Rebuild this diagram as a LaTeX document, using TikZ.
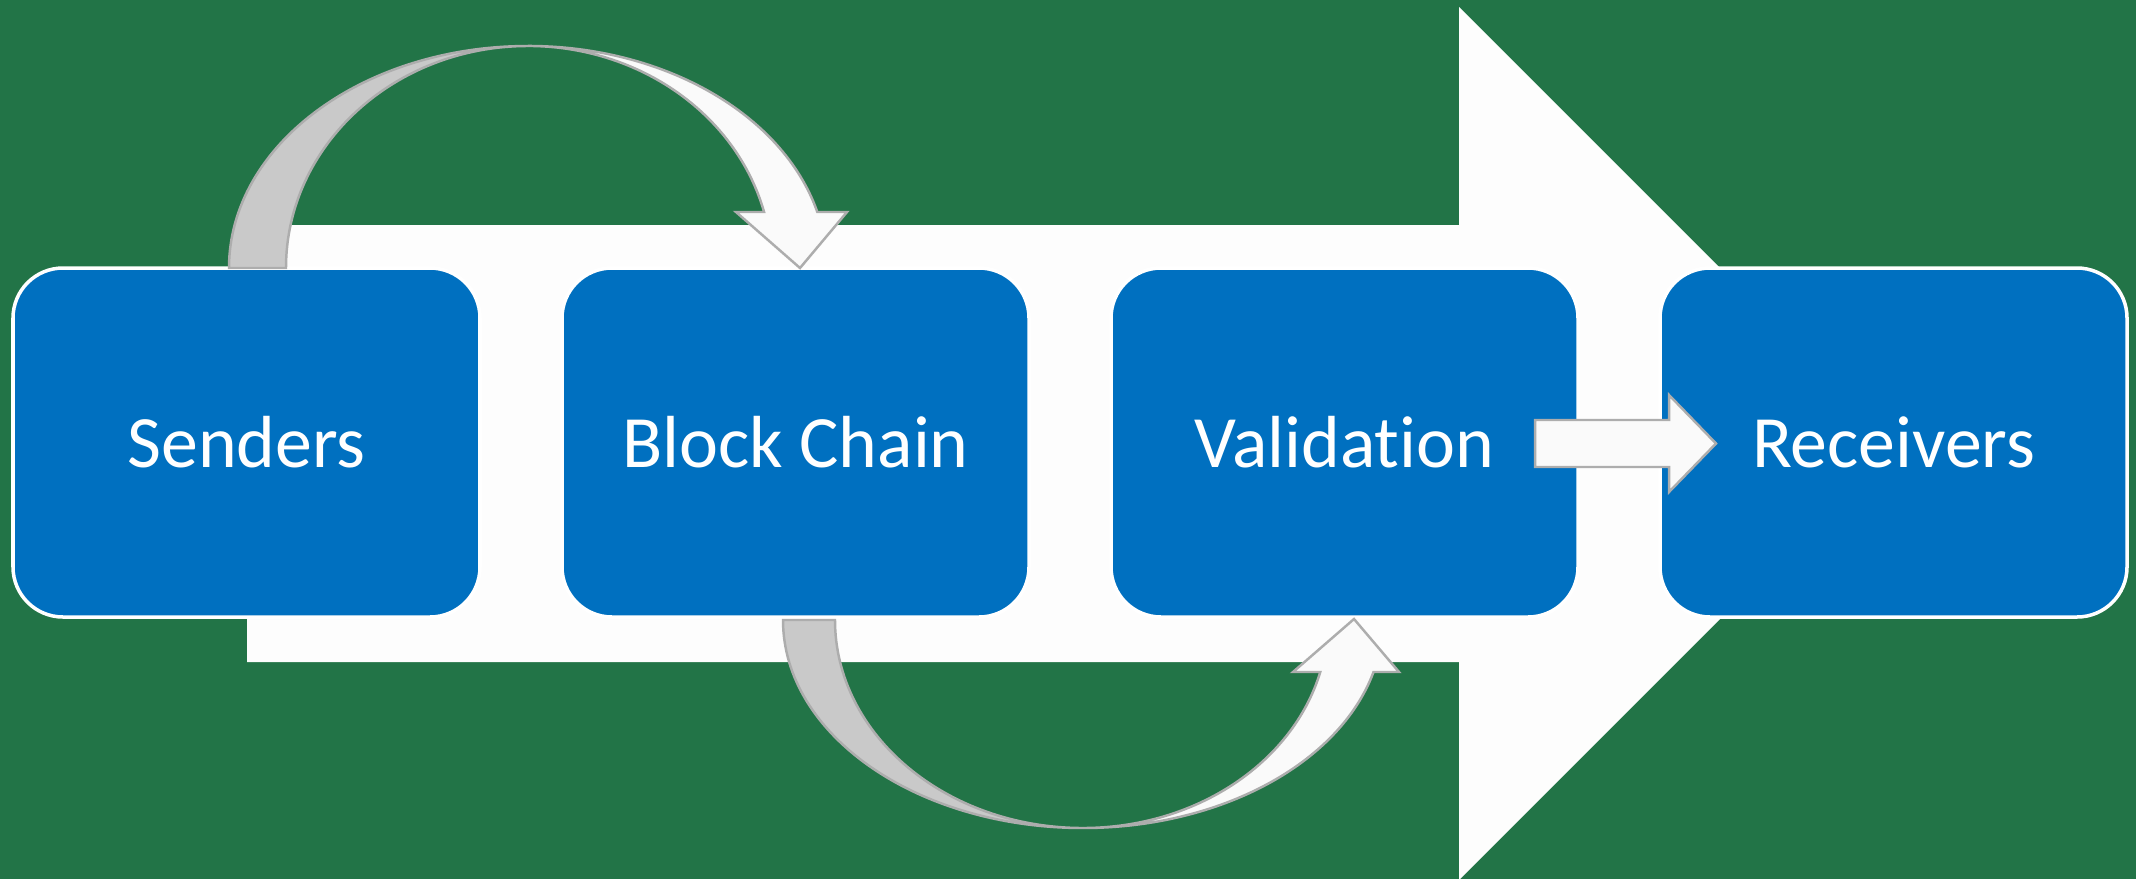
\documentclass[tikz,border=0pt]{standalone}
\usepackage{fontspec}
\setmainfont{Carlito}[Ligatures=NoCommon]
\usepackage{tikz}
\usepackage{xcolor}
\usetikzlibrary{positioning, calc}

\definecolor{bggreen}{HTML}{227447}
\definecolor{boxblue}{HTML}{0070C0}
\definecolor{flowwhite}{HTML}{FDFDFD}
\definecolor{bandgray}{HTML}{C9C9C9}
\definecolor{bandwhite}{HTML}{FAFAFA}
\definecolor{bandedge}{HTML}{ADADAD}

\begin{document}
\begin{tikzpicture}[
		stage/.style={rectangle, rounded corners=0.5cm, minimum width=4.67cm, minimum height=3.49cm,
			inner sep=0pt, outer sep=0pt, fill=boxblue, draw=white, line width=1pt,
			text=white, font=\fontsize{21}{25}\selectfont},
		backband/.style={fill=bandgray, draw=bandedge, line width=0.7pt},
		frontband/.style={fill=bandwhite, draw=bandedge, line width=0.7pt},
		node distance=0.82cm
	]
		\useasboundingbox[fill=bggreen] (0,0) rectangle (21.36,8.79);
		
		% Flow arrow behind the stages
		\fill[flowwhite] (2.47,2.17) -- (14.59,2.17) -- (14.59,-0.01) -- (18.955,4.355)
			-- (14.59,8.72) -- (14.59,6.54) -- (2.47,6.54) -- cycle;
		
		% Stages
		\node[stage] (senders) at (2.465,4.365) {Senders};
		\node[stage, right=of senders] (chain) {Block Chain};
		\node[stage, right=of chain] (valid) {Validation};
		\node[stage, right=of valid] (recv) {Receivers};
		
		% Curved arrow: Senders to Block Chain
		\coordinate (topc) at (5.28,6.11);
		\draw[backband] ($(topc)+(-2.99,0)$) arc[start angle=180, end angle=90, x radius=2.99cm, y radius=2.22cm]
			arc[start angle=90, end angle=180, x radius=2.42cm, y radius=2.22cm] -- cycle;
		\draw[frontband] ($(topc)+(2.893,0.56)$) arc[start angle=14.6, end angle=90, x radius=2.99cm, y radius=2.22cm]
			arc[start angle=90, end angle=14.6, x radius=2.44cm, y radius=2.22cm]
			-- (7.36,6.67) -- ($(chain.north)+(0.045,0)$) -- (8.47,6.67) -- cycle;
		
		% Curved arrow: Block Chain to Validation
		\coordinate (botc) at (10.83,2.59);
		\draw[backband] ($(botc)+(-3.00,0)$) arc[start angle=180, end angle=270, x radius=3.00cm, y radius=2.08cm]
			arc[start angle=270, end angle=180, x radius=2.48cm, y radius=2.08cm] -- cycle;
		\draw[frontband] ($(botc)+(2.905,-0.52)$) arc[start angle=-14.48, end angle=-90, x radius=3.00cm, y radius=2.08cm]
			arc[start angle=-90, end angle=-14.48, x radius=2.45cm, y radius=2.08cm]
			-- (12.93,2.07) -- ($(valid.south)+(0.095,-0.02)$) -- (13.99,2.07) -- cycle;
		
		% Arrow: Validation to Receivers
		\draw[frontband] (15.35,4.12) -- (16.69,4.12) -- (16.69,3.87) -- (17.16,4.355)
			-- (16.69,4.84) -- (16.69,4.59) -- (15.35,4.59) -- cycle;
\end{tikzpicture}
\end{document}
